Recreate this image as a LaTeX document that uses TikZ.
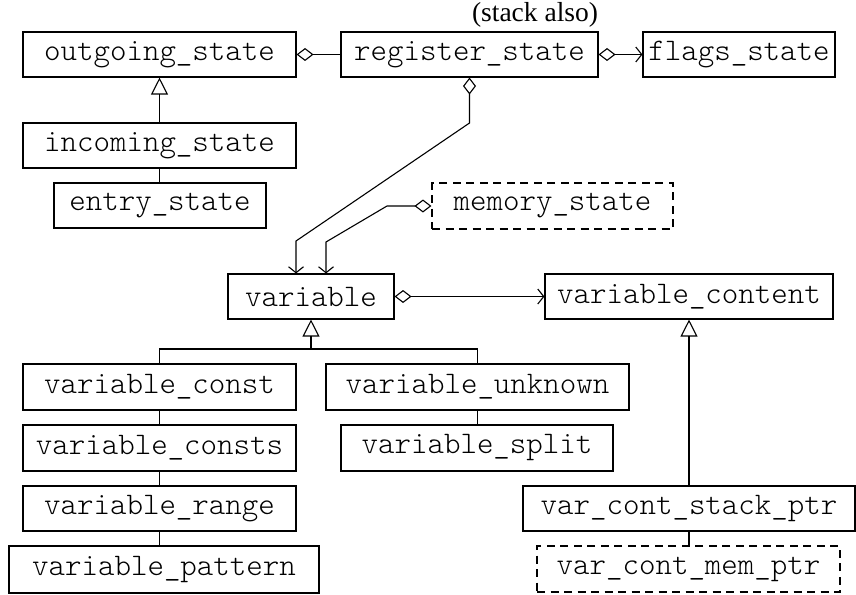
\documentclass[tikz,border=0pt]{standalone}
\usepackage{fontspec}
\setmainfont{Liberation Serif}
\setmonofont{Latin Modern Mono Light}
\usetikzlibrary{arrows.meta}

\tikzset{
  cls/.style={draw, line width=1.1pt, inner sep=0pt, minimum height=45pt,
              font=\ttfamily\fontsize{31.4}{34}\selectfont},
  dashcls/.style={cls, dash pattern=on 8pt off 5.5pt},
  conn/.style={line width=1.1pt},
  agg/.style={conn, {Diamond[open, length=17pt, width=13pt, line width=1.1pt]}-},
  aggto/.style={conn, {Diamond[open, length=17pt, width=13pt, line width=1.1pt]}-{Straight Barb[length=6pt, width=15pt, line width=1.1pt]}},
  inherit/.style={conn, {Triangle[open, length=17pt, width=17pt, line width=1.1pt]}-},
}

\begin{document}
\begin{tikzpicture}[x=1pt, y=-1pt]
\useasboundingbox (0,0) rectangle (856,594);

% classes
\node[cls, minimum width=273pt] (out)    at (159.5,54.5) {outgoing\_state};
\node[cls, minimum width=257pt] (reg)    at (469.5,54.5) {register\_state};
\node[cls, minimum width=192pt] (flags)  at (739,54.5)   {flags\_state};
\node[cls, minimum width=273pt] (inc)    at (159.5,145.5) {incoming\_state};
\node[cls, minimum width=212pt] (entry)  at (160,205.5)  {entry\_state};
\node[dashcls, minimum width=241pt, minimum height=46pt] (mem) at (552.5,206) {memory\_state};
\node[cls, minimum width=166pt] (var)    at (311,296.5)  {variable};
\node[cls, minimum width=288pt] (vc)     at (689,296.5)  {variable\_content};
\node[cls, minimum width=273pt, minimum height=46pt] (vconst)  at (159.5,387) {variable\_const};
\node[cls, minimum width=273pt, minimum height=46pt] (vconsts) at (159.5,448) {variable\_consts};
\node[cls, minimum width=273pt] (vrange) at (159.5,508.5) {variable\_range};
\node[cls, minimum width=310pt, minimum height=47pt] (vpat) at (164,569.5) {variable\_pattern};
\node[cls, minimum width=303pt, minimum height=46pt] (vunk)  at (477.5,387) {variable\_unknown};
\node[cls, minimum width=272pt, minimum height=46pt] (vsplit) at (477,448) {variable\_split};
\node[cls, minimum width=332pt] (vcsp)   at (689,508.5) {var\_cont\_stack\_ptr};
\node[dashcls, minimum width=303pt, minimum height=46pt] (vcmp) at (688.5,569) {var\_cont\_mem\_ptr};

\node[font=\fontsize{27.5}{30}\selectfont] (note) at (535,15) {(stack also)};

% bend points
\coordinate (rb1) at (469.5,123);
\coordinate (rb2) at (296,241);
\coordinate (mb1) at (387,206);
\coordinate (mb2) at (326,242);
\coordinate (hb)  at (0,349);

% aggregations
\draw[agg] (out.east) -- (reg.west);
\draw[aggto] (reg.east) -- (flags.west);
\draw[aggto] (reg.south) -- (rb1) -- (rb2) -- (var.north -| rb2);
\draw[aggto] (mem.west) -- (mb1) -- (mb2) -- (var.north -| mb2);
\draw[aggto] (var.east) -- (vc.west);

% inheritance
\draw[inherit] (out.south) -- (inc.north);
\draw[inherit] (var.south) -- (var.south |- hb);
\draw[conn] (vconst.north) -- (vconst.north |- hb) -| (vunk.north);
\draw[inherit] (vc.south) -- (vcsp.north);

% chains
\draw[conn] (inc.south) -- (inc.south |- entry.north);
\draw[conn] (vconst.south) -- (vconsts.north);
\draw[conn] (vconsts.south) -- (vrange.north);
\draw[conn] (vrange.south) -- (vrange.south |- vpat.north);
\draw[conn] (vunk.south) -- (vunk.south |- vsplit.north);
\draw[conn] (vcsp.south) -- (vcsp.south |- vcmp.north);
\end{tikzpicture}
\end{document}
